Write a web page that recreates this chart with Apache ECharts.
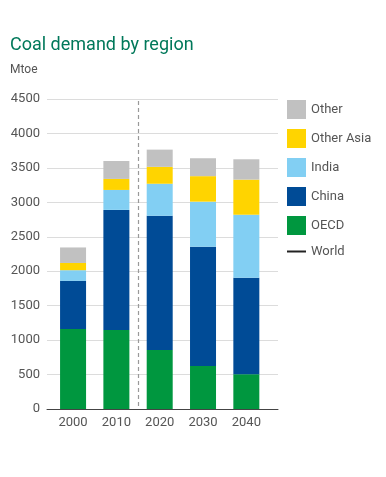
<!DOCTYPE html>
<html><head><meta charset="utf-8">
<script src="https://cdn.jsdelivr.net/npm/echarts@6/dist/echarts.min.js"></script>
<style>html,body{margin:0;padding:0;background:#fff}#c{width:386px;height:477px}</style>
</head><body><div id="c"></div>
<script>
const categories = ['2000', '2010', '2020', '2030', '2040'];
const oecd = [1160, 1145, 855, 625, 505];
const china = [700, 1745, 1950, 1730, 1400];
const india = [155, 290, 465, 655, 915];
const otherAsia = [105, 160, 245, 370, 510];
const other = [225, 260, 250, 260, 295];
const world = [];
const yTicks = [0, 500, 1000, 1500, 2000, 2500, 3000, 3500, 4000, 4500];
const dividerAt = 1.5;

const chart = echarts.init(document.getElementById('c'), null, {renderer: 'canvas'});
const font = 'Roboto, "Liberation Sans", sans-serif';
function bar(name, data, color) {
  return {name, type: 'bar', stack: 'total', barWidth: 26, data,
    xAxisIndex: 1, yAxisIndex: 1,
    itemStyle: {color}, emphasis: {disabled: true}};
}
chart.setOption({
  animation: false,
  textStyle: {fontFamily: font},
  title: [
    {text: 'Coal demand by region', left: 5, top: 31,
     textStyle: {color: '#00785a', fontSize: 18, fontWeight: 'normal', fontFamily: font}},
    {text: 'Mtoe', left: 5, top: 59,
     textStyle: {color: '#555', fontSize: 12, fontWeight: 'normal', fontFamily: font}}
  ],
  legend: {
    orient: 'vertical', left: 282, top: 95, itemWidth: 19, itemHeight: 19, itemGap: 10,
    data: [
      {name: 'Other', icon: 'rect'}, {name: 'Other Asia', icon: 'rect'},
      {name: 'India', icon: 'rect'}, {name: 'China', icon: 'rect'},
      {name: 'OECD', icon: 'rect'},
      {name: 'World', icon: 'path://M0,9 L19,9 L19,11 L0,11 Z', itemStyle: {color: '#222'}}
    ],
    textStyle: {color: '#555', fontSize: 13, padding: [0, 0, 0, 0]},
    selectedMode: false
  },
  grid: [
    {left: 47, right: 108, top: 99, bottom: 68},
    {left: 51.4, right: 118, top: 99, bottom: 68}
  ],
  xAxis: [
    {gridIndex: 0, type: 'value', min: -0.6, max: 4.734,
     axisLine: {show: true, lineStyle: {color: '#444', width: 1}},
     axisTick: {show: false}, splitLine: {show: false}, axisLabel: {show: false}},
    {gridIndex: 1, type: 'category', data: categories,
     axisLine: {show: false}, axisTick: {show: false},
     axisLabel: {color: '#555', fontSize: 13, margin: 7}}
  ],
  yAxis: [
    {gridIndex: 0, type: 'value', min: 0, max: 4500, interval: 500,
     axisLine: {show: false}, axisTick: {show: false},
     axisLabel: {color: '#555', fontSize: 13, margin: 7, formatter: v => yTicks.includes(v) ? String(v) : ''},
     splitLine: {lineStyle: {color: '#dcdcdc', width: 1}}},
    {gridIndex: 1, type: 'value', min: 0, max: 4500, interval: 500, show: false}
  ],
  series: [
    bar('OECD', oecd, '#00973f'),
    bar('China', china, '#004b96'),
    bar('India', india, '#82cff3'),
    bar('Other Asia', otherAsia, '#ffd400'),
    bar('Other', other, '#c1c1c1'),
    {name: 'World', type: 'line', data: world, xAxisIndex: 0, yAxisIndex: 0,
     itemStyle: {color: '#222'}, lineStyle: {color: '#222'}, symbol: 'none',
     markLine: {symbol: 'none', silent: true, label: {show: false},
       lineStyle: {type: [4, 3], color: '#999', width: 1.2},
       data: [[{coord: [dividerAt, 4470]}, {coord: [dividerAt, 0]}]]}}
  ]
});
</script></body></html>
